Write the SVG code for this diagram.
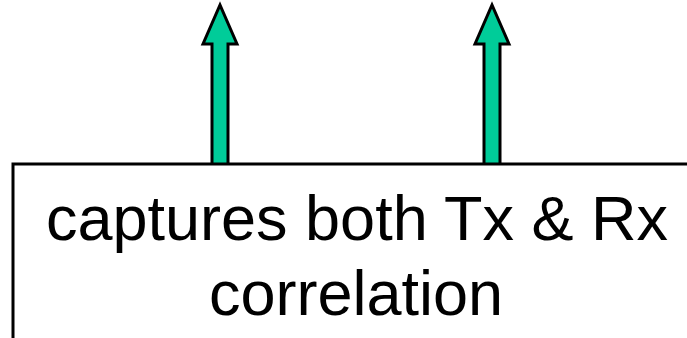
<svg xmlns="http://www.w3.org/2000/svg" width="687" height="338" viewBox="0 0 687 338">
<style>
.arrow{fill:#00CC99;stroke:#000;stroke-width:3;stroke-linejoin:miter}
.box{fill:#fff;stroke:#000;stroke-width:3}
.t{font-family:"Liberation Sans",Arial,sans-serif;font-size:63px;fill:#000;text-anchor:middle}
</style>
<rect width="687" height="338" fill="#fff"/>
<g id="connectors">
<polygon class="arrow" points="212,166 212,44 203,44 220,5 237,44 228,44 228,166"/>
<polygon class="arrow" points="484,166 484,44 475,44 492,5 509,44 500,44 500,166"/>
</g>
<g id="box">
<rect class="box" x="13" y="164" width="700" height="200"/>
<text class="t" x="357" y="240">captures both Tx &amp; Rx</text>
<text class="t" x="356" y="315">correlation</text>
</g>
</svg>
